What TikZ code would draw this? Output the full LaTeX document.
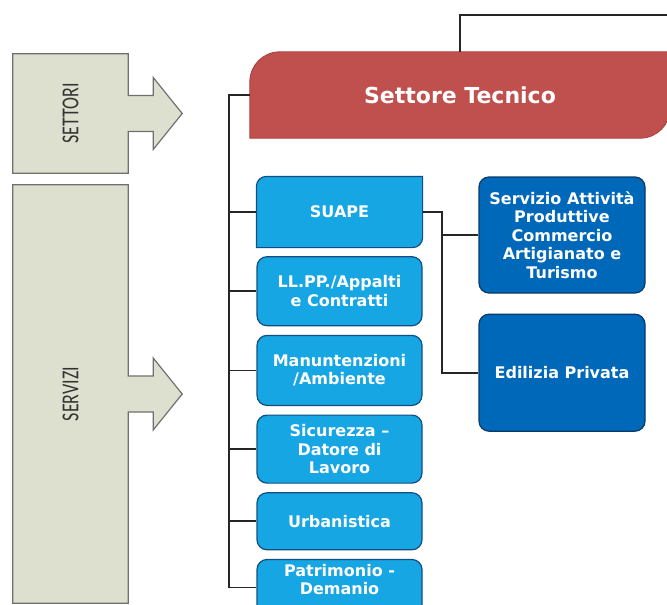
\documentclass[tikz,border=0pt]{standalone}
\usepackage{fontspec}
\setmainfont{DejaVu Sans}
\newfontfamily\sidefont{Carlito}
\usetikzlibrary{positioning,backgrounds}

\definecolor{tecred}{RGB}{192,80,77}
\definecolor{tecline}{RGB}{165,62,58}
\definecolor{servblue}{RGB}{22,166,228}
\definecolor{servline}{RGB}{18,78,128}
\definecolor{ufblue}{RGB}{0,104,184}
\definecolor{ufline}{RGB}{10,58,105}
\definecolor{sidefill}{RGB}{221,224,207}
\definecolor{sideline}{RGB}{112,112,112}

% box with round top left and bottom right corners
\newcommand\diagshape[3]{%
  \path[#3] (#1.south west) -- ([yshift=-#2]#1.north west)
    arc[start angle=180,end angle=90,radius=#2] -- (#1.north east)
    -- ([yshift=#2]#1.south east)
    arc[start angle=0,end angle=-90,radius=#2] -- cycle;}

% grey box with its block arrow
\newcommand\sidearrow[1]{%
  \filldraw[fill=sidefill,draw=sideline,line width=1.2pt]
    (#1.north west) -- (#1.north east) -- ([yshift=18pt]#1.east)
    -- ++(25pt,0pt) -- ++(0pt,18pt) -- ([xshift=54pt]#1.east)
    -- ([xshift=25pt,yshift=-36pt]#1.east) -- ++(0pt,18pt)
    -- ([yshift=-18pt]#1.east) -- (#1.south east) -- (#1.south west) -- cycle;}

\begin{document}
\begin{tikzpicture}[x=1pt,y=-1pt,node distance=8.5pt,
  link/.style={line width=1.8pt,draw=black!85},
  serv node/.style={rectangle,rounded corners=10pt,draw=servline,line width=1.2pt,
    fill=servblue,text=white,align=center,minimum width=165pt,
    font=\bfseries\fontsize{16pt}{18.5pt}\selectfont},
  uff node/.style={serv node,fill=ufblue,draw=ufline,minimum width=166pt},
  side node/.style={minimum width=115pt,inner sep=0pt},
  side text/.style={xscale=1.35,rotate=90,text=black!80,
    font=\sidefont\fontsize{18pt}{20pt}\selectfont}]

  \useasboundingbox (0,0) rectangle (667,605);

  % settori / servizi
  \node[side node,minimum height=119pt] (settori) at (70.5,113.5) {};
  \node[side text] (settorit) at (settori) {SETTORI};
  \node[side node,minimum height=418pt] (servizi) at (70.5,394) {};
  \node[side text] (servizit) at (servizi) {SERVIZI};

  \node[minimum width=420pt,minimum height=86pt,text=white,
    font=\bfseries\fontsize{22pt}{26pt}\selectfont] (tec) at (460,95) {Settore Tecnico};

  \node[serv node,draw=none,fill=none,minimum height=70pt] (suape) at (339.5,212) {SUAPE};
  \node[serv node,minimum height=69pt] (llpp) [below=of suape] {LL.PP./Appalti\\e Contratti};
  \node[serv node,minimum height=70pt] (manut) [below=of llpp] {Manuntenzioni\\/Ambiente};
  \node[serv node,minimum height=68pt] (sicur) [below=of manut] {Sicurezza --\\Datore di\\Lavoro};
  \node[serv node,minimum height=57pt] (urb) [below=of sicur] {Urbanistica};
  \node[serv node,minimum height=56pt,text depth=16pt] (patr) [below=of urb] {Patrimonio -\\Demanio};

  \node[uff node,minimum height=116pt] (sap) at (562,235)
    {Servizio Attività\\Produttive\\Commercio\\Artigianato e\\Turismo};
  \node[uff node,minimum height=117pt] (edil) [below=20pt of sap] {Edilizia Privata};

  \coordinate (trunk) at (229,0);
  \coordinate (bus) at (442,0);
  \coordinate (topend) at (667,15);

  \draw[link] (tec.north) |- (topend);
  \draw[link] (tec.west) -| (trunk |- patr.west) -- (patr.west);
  \foreach \n in {suape,llpp,manut,sicur,urb}
    \draw[link] (trunk |- \n.west) -- (\n.west);
  \draw[link] (suape.east) -| (bus |- edil.west) -- (edil.west);
  \draw[link] (bus |- sap.west) -- (sap.west);

  \begin{scope}[on background layer]
    \sidearrow{settori}
    \sidearrow{servizi}
    \diagshape{tec}{30pt}{fill=tecred,draw=tecline,line width=0.8pt}
    \diagshape{suape}{10pt}{fill=servblue,draw=servline,line width=1.2pt}
  \end{scope}
\end{tikzpicture}
\end{document}
